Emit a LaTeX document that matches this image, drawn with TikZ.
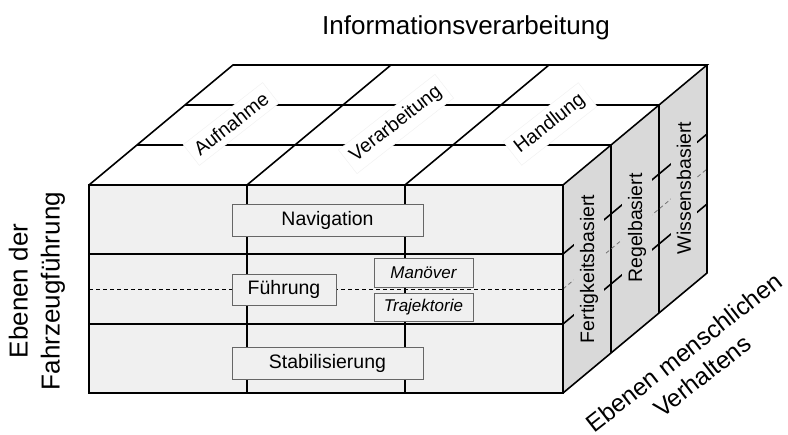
\documentclass[tikz,border=0pt]{standalone}
\usepackage{fontspec}
\setmainfont{Liberation Sans}
\begin{document}
\begin{tikzpicture}[x=1pt,y=-1pt,
  edge/.style={line width=1.6pt, line join=miter},
  frontfill/.style={fill=black!6},
  sidefill/.style={fill=black!15},
  midline/.style={line width=0.8pt, dash pattern=on 4pt off 3pt},
  levelbox/.style={draw=black!60, line width=0.9pt, fill=black!6, inner sep=0pt,
    font=\fontsize{19.5}{23}\selectfont},
  subbox/.style={levelbox, font=\fontsize{17}{20}\selectfont\itshape,
    minimum width=99pt},
  toplabel/.style={fill=white, draw=black!6, rotate=38, inner sep=6pt,
    font=\fontsize{19.5}{23}\selectfont},
  sidelabel/.style={sidefill, rotate=90, inner sep=6pt,
    font=\fontsize{19.5}{23}\selectfont},
  axislabel/.style={align=center, font=\fontsize{26}{32}\selectfont}
]
\useasboundingbox (0,0) rectangle (788,435);

% corners of the block
\coordinate (FTL) at (89,185);
\coordinate (FTR) at (563,185);
\coordinate (FBL) at (89,393);
\coordinate (FBR) at (563,393);
\coordinate (BTL) at (233,65);
\coordinate (BTR) at (707,65);
\coordinate (BBR) at (707,273);

% faces
\path[frontfill] (FTL) rectangle (FBR);
\path[fill=white] (FTL) -- (FTR) -- (BTR) -- (BTL) -- cycle;
\path[sidefill] (FTR) -- (BTR) -- (BBR) -- (FBR) -- cycle;

% front grid
\draw[edge] (247,185) -- (247,393);
\draw[edge] (405,185) -- (405,393);
\draw[edge] (89,254) -- (563,254);
\draw[edge] (89,324) -- (563,324);
\draw[midline] (89,289) -- (563,289);

% top grid
\draw[edge] (247,185) -- (391,65);
\draw[edge] (405,185) -- (549,65);
\draw[edge] (137,145) -- (611,145);
\draw[edge] (185,105) -- (659,105);

% side grid
\draw[edge] (611,145) -- (611,353);
\draw[edge] (659,105) -- (659,313);
\draw[edge] (563,254) -- (707,134);
\draw[edge] (563,324) -- (707,204);
\draw[midline, black!55] (563,289) -- (707,169);

% labels of the top face
\node[toplabel] (aufnahme) at (231,124) {Aufnahme};
\node[toplabel] (verarbeitung) at (396,124) {Verarbeitung};
\node[toplabel] (handlung) at (550,124) {Handlung};

% labels of the side face
\node[sidelabel] (fertigkeit) at (589,269) {Fertigkeitsbasiert};
\node[sidelabel] (regel) at (637,228) {Regelbasiert};
\node[sidelabel] (wissen) at (684,188) {Wissensbasiert};

% outline of the block
\draw[edge] (FTL) rectangle (FBR);
\draw[edge] (FTL) -- (BTL) -- (BTR) -- (FTR);
\draw[edge] (BTR) -- (BBR) -- (FBR);

% levels of vehicle guidance
\node[levelbox, minimum width=191pt, minimum height=32pt] (navigation) at (327.5,220) {Navigation};
\node[levelbox, minimum width=104pt, minimum height=31pt] (fuehrung) at (284,289.5) {Führung};
\node[subbox, minimum height=29pt] (manoever) at (423.5,272.5) {Manöver};
\node[subbox, minimum height=28pt] (trajektorie) at (423.5,307) {Trajektorie};
\node[levelbox, minimum width=191pt, minimum height=32pt] (stabilisierung) at (327.5,363) {Stabilisierung};

% axis titles
\node[axislabel] (info) at (466,28) {Informationsverarbeitung};
\node[axislabel, rotate=90] (fahrzeug) at (37,291) {Ebenen der\\Fahrzeugführung};
\node[axislabel, rotate=38, font=\fontsize{24.5}{30}\selectfont] (mensch) at (693,364) {Ebenen menschlichen\\Verhaltens};
\end{tikzpicture}
\end{document}
